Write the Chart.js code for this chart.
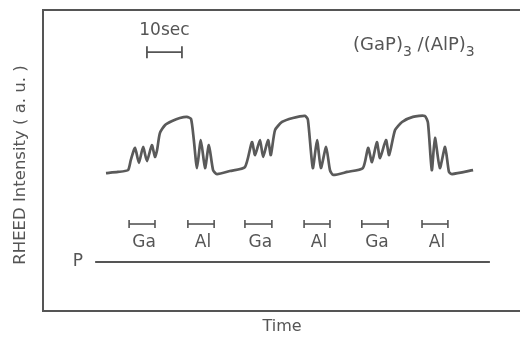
<!DOCTYPE html>
<html>
<head>
<meta charset="utf-8">
<script src="https://cdn.jsdelivr.net/npm/chart.js@4.4.1/dist/chart.umd.min.js"></script>
<style>
  html, body { margin: 0; padding: 0; background: #fff; }
  canvas { display: block; }
</style>
</head>
<body>
<canvas id="chart" width="520" height="338"></canvas>
<script>
// RHEED intensity trace, time in sec, intensity in a.u.
const curveTime = [
  18.0, 21.4, 24.3, 25.1, 26.3, 27.4, 28.6, 29.7, 31.1, 32.0, 32.6, 33.4, 34.9, 36.9, 39.1, 41.1, 42.3, 43.1,
  44.0, 45.1, 46.3, 47.4, 48.6, 49.7, 53.4, 57.7,
  59.7, 60.6, 62.0, 62.9, 64.3, 65.1, 66.3, 68.3, 71.4, 74.9, 75.7, 77.1, 78.3, 79.4, 80.9, 82.0, 82.9, 86.9, 91.4,
  92.9, 94.0, 95.4, 96.3, 98.0, 98.9, 100.6, 102.6, 105.7, 109.1, 110.0, 111.1, 112.0, 113.4, 114.9, 116.0, 116.9, 122.9
];
const curveIntensity = [
  45.8, 46.2, 46.8, 50.2, 54.2, 49.2, 54.5, 49.8, 55.1, 51.2, 53.5, 59.1, 61.8, 63.1, 64.1, 64.5, 63.8, 56.8,
  47.5, 56.8, 47.5, 55.1, 46.8, 45.5, 46.5, 47.8,
  56.1, 51.8, 56.8, 51.2, 56.8, 51.8, 60.1, 62.8, 64.1, 64.8, 63.5, 47.5, 56.8, 47.5, 54.5, 46.8, 45.2, 46.2, 47.5,
  54.2, 49.5, 56.1, 50.8, 56.8, 51.8, 60.1, 62.8, 64.5, 64.8, 62.5, 46.8, 57.5, 47.5, 54.5, 46.2, 45.5, 46.8
];

// shutter sequence
const shutterLabels = ['Ga', 'Al', 'Ga', 'Al', 'Ga', 'Al'];
const shutterOpen = [24.6, 41.4, 57.7, 74.6, 91.1, 108.3];
const shutterClose = [32.0, 48.9, 65.4, 82.0, 98.6, 115.7];
const shutterLevel = 28.9;
const shutterLabelLevel = 22.6;

// P shutter, always open
const pTime = [14.9, 127.7];
const pLevel = 16.3;
const pLabelTime = 10.0;

// 10 sec scale bar
const scaleBarTime = [29.7, 39.7];
const scaleBarLevel = 86.0;
const scaleBarLabelLevel = 93.3;

const titleTime = 88.6;
const titleLevel = 88.2;

const INK = '#555';
const FONT = "'DejaVu Sans', Arial, sans-serif";

const datasets = [{
  data: curveTime.map((t, i) => ({ x: t, y: curveIntensity[i] })),
  borderColor: '#5a5a5a',
  borderWidth: 2.7,
  pointRadius: 0,
  tension: 0.2,
  fill: false
}, {
  data: pTime.map(t => ({ x: t, y: pLevel })),
  borderColor: INK,
  borderWidth: 2,
  pointRadius: 0
}, {
  data: scaleBarTime.map(t => ({ x: t, y: scaleBarLevel })),
  borderColor: INK,
  borderWidth: 1.6,
  pointStyle: 'line',
  pointRadius: 6,
  pointBorderWidth: 1.8,
  pointBorderColor: INK,
  rotation: 90
}];

shutterOpen.forEach((t, i) => {
  datasets.push({
    data: [{ x: t, y: shutterLevel }, { x: shutterClose[i], y: shutterLevel }],
    borderColor: INK,
    borderWidth: 1.6,
    pointStyle: 'line',
    pointRadius: 4,
    pointBorderWidth: 1.6,
    pointBorderColor: INK,
    rotation: 90
  });
});

const annotations = {
  id: 'annotations',
  afterDraw(chart) {
    const ctx = chart.ctx;
    const a = chart.chartArea;
    const x = chart.scales.x;
    const y = chart.scales.y;
    ctx.save();

    // frame (right side is cut off)
    ctx.strokeStyle = INK;
    ctx.lineWidth = 2;
    ctx.beginPath();
    ctx.moveTo(a.right, a.top);
    ctx.lineTo(a.left, a.top);
    ctx.lineTo(a.left, a.bottom);
    ctx.lineTo(a.right, a.bottom);
    ctx.stroke();

    ctx.fillStyle = INK;
    ctx.textAlign = 'center';
    ctx.textBaseline = 'middle';
    ctx.font = '17px ' + FONT;

    shutterLabels.forEach((lbl, i) => {
      const cx = x.getPixelForValue((shutterOpen[i] + shutterClose[i]) / 2) + 2;
      ctx.fillText(lbl, cx, y.getPixelForValue(shutterLabelLevel));
    });

    ctx.fillText('P', x.getPixelForValue(pLabelTime), y.getPixelForValue(pLevel));
    ctx.fillText('10sec', x.getPixelForValue((scaleBarTime[0] + scaleBarTime[1]) / 2),
      y.getPixelForValue(scaleBarLabelLevel));

    // (GaP)3 /(AlP)3
    ctx.textAlign = 'left';
    let px = x.getPixelForValue(titleTime);
    const py = y.getPixelForValue(titleLevel);
    const parts = [['(GaP)', false], ['3', true], [' /(AlP)', false], ['3', true]];
    parts.forEach(([s, sub]) => {
      ctx.font = (sub ? '14px ' : '18px ') + FONT;
      ctx.fillText(s, px, sub ? py + 7 : py);
      px += ctx.measureText(s).width;
    });

    // axis titles
    ctx.font = '16px ' + FONT;
    ctx.textAlign = 'center';
    ctx.fillText('Time', (a.left + a.right) / 2 + 0.5, a.bottom + 16);
    ctx.translate(a.left - 22, (a.top + a.bottom) / 2 + 4.5);
    ctx.rotate(-Math.PI / 2);
    ctx.font = '16.5px ' + FONT;
    ctx.fillText('RHEED Intensity ( a. u. )', 0, 0);
    ctx.restore();
  }
};

new Chart(document.getElementById('chart'), {
  type: 'line',
  data: { datasets: datasets },
  options: {
    responsive: false,
    animation: false,
    layout: { autoPadding: false, padding: { left: 43, top: 10, right: 0, bottom: 27 } },
    plugins: { legend: { display: false }, tooltip: { enabled: false } },
    scales: {
      x: { type: 'linear', min: 0, max: 136.3, display: false },
      y: { min: 0, max: 100, display: false }
    }
  },
  plugins: [annotations]
});
</script>
</body>
</html>
